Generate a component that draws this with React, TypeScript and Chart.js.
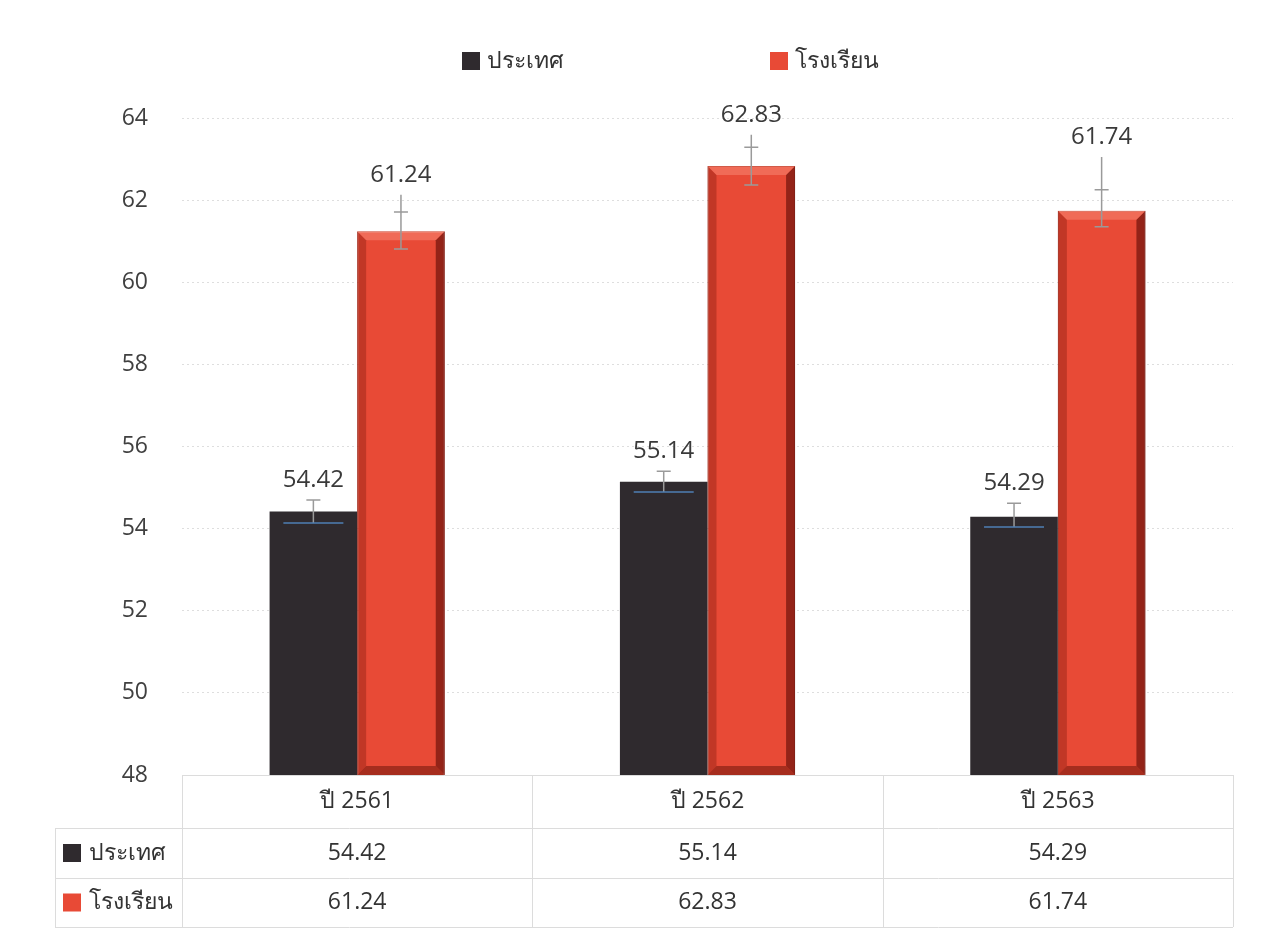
import React, { useEffect, useRef } from 'react';
import { Chart, registerables } from 'chart.js';

Chart.register(...registerables);

const categories = ['ปี 2561', 'ปี 2562', 'ปี 2563'];
const seriesNames = ['ประเทศ', 'โรงเรียน'];
const countryValues = [54.42, 55.14, 54.29];
const schoolValues = [61.24, 62.83, 61.74];
const countryErrLow = [54.14, 54.89, 54.04];
const countryErrHigh = [54.7, 55.4, 54.62];
const schoolErrLow = [60.81, 62.37, 61.35];
const schoolErrHigh = [61.71, 63.29, 62.25];
const schoolWhiskerTop = [62.13, 63.59, 63.05];
const yMin = 48;
const yMax = 64;
const yStep = 2;

const DARK = '#2f2a2e';
const RED = '#e84a36';
const FONT = "'Open Sans', 'Noto Sans', sans-serif";

const overlayPlugin = {
  id: 'overlay',
  afterDatasetsDraw(chart: any) {
    const ctx = chart.ctx;
    const y = chart.scales.y;
    const ca = chart.chartArea;
    // bevel on red bars
    const metaRed = chart.getDatasetMeta(1);
    metaRed.data.forEach((bar: any) => {
      const w = bar.width;
      const l = bar.x - w / 2;
      const r = bar.x + w / 2;
      const t = bar.y;
      const b = Math.min(bar.base, ca.bottom);
      const s = 9;
      ctx.save();
      ctx.fillStyle = 'rgba(120,20,10,0.35)';
      ctx.beginPath();
      ctx.moveTo(l, t); ctx.lineTo(l + s, t + s); ctx.lineTo(l + s, b - s); ctx.lineTo(l, b); ctx.closePath(); ctx.fill();
      ctx.fillStyle = 'rgba(90,10,5,0.6)';
      ctx.beginPath();
      ctx.moveTo(r, t); ctx.lineTo(r - s, t + s); ctx.lineTo(r - s, b - s); ctx.lineTo(r, b); ctx.closePath(); ctx.fill();
      ctx.fillStyle = 'rgba(255,170,150,0.35)';
      ctx.beginPath();
      ctx.moveTo(l, t); ctx.lineTo(r, t); ctx.lineTo(r - s, t + s); ctx.lineTo(l + s, t + s); ctx.closePath(); ctx.fill();
      ctx.fillStyle = 'rgba(100,15,5,0.5)';
      ctx.beginPath();
      ctx.moveTo(l, b); ctx.lineTo(r, b); ctx.lineTo(r - s, b - s); ctx.lineTo(l + s, b - s); ctx.closePath(); ctx.fill();
      ctx.restore();
    });

    // error bars
    const metaDark = chart.getDatasetMeta(0);
    ctx.save();
    metaDark.data.forEach((bar: any, i: number) => {
      const x = bar.x;
      const yh = y.getPixelForValue(countryErrHigh[i]);
      const yl = y.getPixelForValue(countryErrLow[i]);
      ctx.strokeStyle = '#9a9a9a';
      ctx.lineWidth = 1.5;
      ctx.beginPath();
      ctx.moveTo(x, yh); ctx.lineTo(x, yl);
      ctx.moveTo(x - 7, yh); ctx.lineTo(x + 7, yh);
      ctx.stroke();
      ctx.strokeStyle = '#4f7fb5';
      ctx.beginPath();
      ctx.moveTo(x - 30, yl); ctx.lineTo(x + 30, yl);
      ctx.stroke();
    });
    metaRed.data.forEach((bar: any, i: number) => {
      const x = bar.x;
      const yw = y.getPixelForValue(schoolWhiskerTop[i]);
      const yh = y.getPixelForValue(schoolErrHigh[i]);
      const yl = y.getPixelForValue(schoolErrLow[i]);
      ctx.strokeStyle = '#9a9a9a';
      ctx.lineWidth = 1.5;
      ctx.beginPath();
      ctx.moveTo(x, yw); ctx.lineTo(x, yl);
      ctx.moveTo(x - 7, yh); ctx.lineTo(x + 7, yh);
      ctx.moveTo(x - 7, yl); ctx.lineTo(x + 7, yl);
      ctx.stroke();
    });
    ctx.restore();

    // value labels
    ctx.save();
    ctx.font = `24px ${FONT}`;
    ctx.fillStyle = '#3a3a3a';
    ctx.textAlign = 'center';
    ctx.textBaseline = 'middle';
    metaDark.data.forEach((bar: any, i: number) => {
      ctx.fillText(countryValues[i].toFixed(2), bar.x, y.getPixelForValue(countryErrHigh[i]) - 20);
    });
    metaRed.data.forEach((bar: any, i: number) => {
      ctx.fillText(schoolValues[i].toFixed(2), bar.x, y.getPixelForValue(schoolWhiskerTop[i]) - 20);
    });
    ctx.restore();
  },
  afterDraw(chart: any) {
    const ctx = chart.ctx;
    const ca = chart.chartArea;
    const xs = chart.scales.x;
    const left = ca.left;
    const right = ca.right;
    const top = ca.bottom;
    const r1 = top + 53;
    const r2 = r1 + 50;
    const r3 = r2 + 49;
    const labelLeft = 55;
    const colW = (right - left) / categories.length;

    ctx.save();
    ctx.strokeStyle = '#dcdcdc';
    ctx.lineWidth = 1;
    ctx.beginPath();
    ctx.moveTo(left, top + 0.5); ctx.lineTo(right, top + 0.5);
    [r1, r2, r3].forEach((yy) => { ctx.moveTo(labelLeft, yy + 0.5); ctx.lineTo(right, yy + 0.5); });
    for (let i = 0; i <= categories.length; i++) {
      const xx = Math.round(left + colW * i) + 0.5;
      ctx.moveTo(xx, top); ctx.lineTo(xx, r3);
    }
    ctx.moveTo(labelLeft + 0.5, r1); ctx.lineTo(labelLeft + 0.5, r3);
    ctx.stroke();

    ctx.fillStyle = '#333333';
    ctx.font = `23px ${FONT}`;
    ctx.textAlign = 'center';
    ctx.textBaseline = 'middle';
    categories.forEach((c, i) => {
      const cx = xs.getPixelForValue(i);
      ctx.fillText(c, cx, (top + r1) / 2);
      ctx.fillText(countryValues[i].toFixed(2), cx, (r1 + r2) / 2);
      ctx.fillText(schoolValues[i].toFixed(2), cx, (r2 + r3) / 2);
    });
    ctx.textAlign = 'left';
    const rows = [
      { name: seriesNames[0], color: DARK, yc: (r1 + r2) / 2 },
      { name: seriesNames[1], color: RED, yc: (r2 + r3) / 2 },
    ];
    rows.forEach((rw) => {
      ctx.fillStyle = rw.color;
      ctx.fillRect(63, rw.yc - 9, 18, 18);
      ctx.fillStyle = '#333333';
      ctx.fillText(rw.name, 89, rw.yc);
    });

    const legendItems = [
      { name: seriesNames[0], color: DARK, x: 462 },
      { name: seriesNames[1], color: RED, x: 770 },
    ];
    legendItems.forEach((it) => {
      ctx.fillStyle = it.color;
      ctx.fillRect(it.x, 52, 18, 18);
      ctx.fillStyle = '#333333';
      ctx.fillText(it.name, it.x + 25, 61);
    });
    ctx.restore();
  },
};

export default function App() {
  const ref = useRef<HTMLCanvasElement | null>(null);
  useEffect(() => {
    if (!ref.current) return;
    const chart = new Chart(ref.current, {
      type: 'bar',
      data: {
        labels: categories,
        datasets: [
          {
            label: seriesNames[0],
            data: countryValues,
            backgroundColor: DARK,
            borderWidth: 0,
            categoryPercentage: 0.5,
            barPercentage: 1.0,
          },
          {
            label: seriesNames[1],
            data: schoolValues,
            backgroundColor: RED,
            borderColor: '#b8301f',
            borderWidth: 1,
            categoryPercentage: 0.5,
            barPercentage: 1.0,
          },
        ],
      },
      options: {
        animation: false,
        responsive: false,
        maintainAspectRatio: false,
        layout: { padding: { left: 0, right: 34, top: 118, bottom: 161 } },
        plugins: {
          legend: { display: false },
          tooltip: { enabled: false },
          title: { display: false },
        },
        scales: {
          x: {
            display: false,
          },
          y: {
            min: yMin,
            max: yMax,
            ticks: {
              stepSize: yStep,
              padding: 34,
              color: '#404040',
              font: { family: FONT, size: 23 },
            },
            grid: {
              color: 'rgba(0,0,0,0.13)',
              drawTicks: false,
            },
            border: { display: false, dash: [2, 3] },
            afterFit(scale: any) {
              scale.width = 182;
            },
          },
        },
      },
      plugins: [overlayPlugin],
    });
    return () => chart.destroy();
  }, []);
  return (
    <div style={{ position: 'fixed', left: 0, top: 0, width: 1267, height: 936, background: '#fff' }}>
      <canvas ref={ref} width={1267} height={936} style={{ width: 1267, height: 936 }} />
    </div>
  );
}
